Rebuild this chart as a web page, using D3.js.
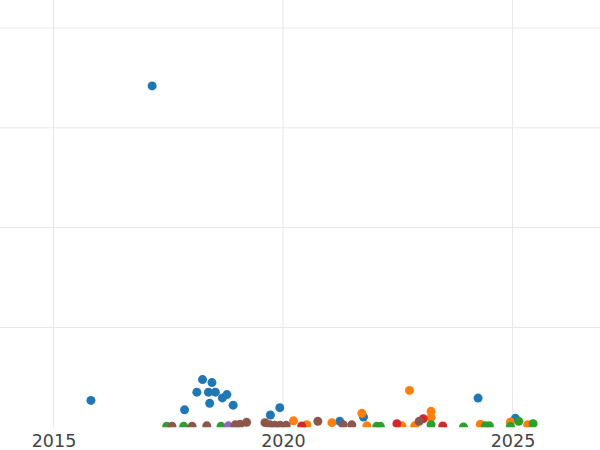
<!DOCTYPE html>
<html>
<head>
<meta charset="utf-8">
<script src="https://cdn.jsdelivr.net/npm/d3@7"></script>
<style>
  body { margin: 0; background: #fff; }
  svg { display: block; }
</style>
</head>
<body>
<div id="chart"></div>
<script>
const width = 600 // svg width
const height = 450 // svg height
const plotBottom = 427.33 // bottom edge of the plot area (points are clipped here)

// DATA
const xTickLabels = ["2015", "2020", "2025"]
const yTickValues = [10, 20, 30, 40]
const seriesNames = ["series1", "series2", "series3", "series4", "series5", "series6"]

const series1Dates = ["2015-10-26", "2017-02-24", "2017-11-09", "2018-02-15", "2018-04-01", "2018-05-18",
  "2018-05-28", "2018-06-15", "2018-07-12", "2018-09-06", "2018-10-12", "2018-12-01", "2019-09-23",
  "2019-12-07", "2021-03-28", "2021-10-03", "2024-04-02", "2025-01-24"]
const series1Values = [2.7, 34.2, 1.75, 3.52, 4.78, 3.52, 2.4, 4.48, 3.52, 2.95, 3.28, 2.22, 1.23,
  1.97, 0.6, 1.03, 2.93, 0.9]

const series2Dates = ["2020-03-25", "2020-07-09", "2021-01-25", "2021-09-20", "2021-10-30", "2022-08-05",
  "2022-10-04", "2022-11-15", "2023-03-25", "2023-03-25", "2024-04-20", "2024-12-15", "2025-05-02"]
const series2Values = [0.65, 0.27, 0.47, 1.4, 0.15, 0.15, 3.7, 0.15, 1.0, 1.6, 0.3, 0.53, 0.27]

const series3Dates = ["2017-06-20", "2017-11-02", "2018-08-26", "2022-01-17", "2022-02-14", "2023-03-25",
  "2023-12-08", "2024-05-30", "2024-07-01", "2024-12-15", "2025-02-20", "2025-06-14"]
const series3Values = [0.1, 0.1, 0.1, 0.1, 0.1, 0.27, 0.03, 0.15, 0.15, 0.1, 0.6, 0.37]

const series4Dates = ["2020-05-30", "2022-06-26", "2023-01-22", "2023-06-26"]
const series4Values = [0.13, 0.37, 0.87, 0.13]

const series5Dates = ["2018-10-24"]
const series5Values = [0.15]

const series6Dates = ["2017-08-01", "2018-01-08", "2018-05-05", "2018-12-18", "2019-01-25", "2019-03-18",
  "2019-08-11", "2019-09-20", "2019-10-30", "2019-12-10", "2020-01-27", "2020-10-05", "2021-04-24",
  "2021-07-02", "2022-12-20"]
const series6Values = [0.1, 0.1, 0.15, 0.25, 0.3, 0.5, 0.47, 0.25, 0.2, 0.2, 0.2, 0.6, 0.27, 0.25, 0.6]

const seriesDates = [series1Dates, series2Dates, series3Dates, series4Dates, series5Dates, series6Dates]
const seriesValues = [series1Values, series2Values, series3Values, series4Values, series5Values, series6Values]

const parseDate = d3.timeParse("%Y-%m-%d")

// one record per point, series kept in drawing order
const points = seriesNames.flatMap((name, i) =>
  seriesDates[i].map((d, j) => ({ series: name, date: parseDate(d), value: seriesValues[i][j] })))

// SCALES
const x = d3.scaleTime()
  .domain([new Date(2015, 0, 1), new Date(2025, 0, 1)])
  .range([53.5, 512.5])

const y = d3.scaleLinear()
  .domain([0, 40])
  .range([plotBottom, 28])

const color = d3.scaleOrdinal()
  .domain(seriesNames)
  .range(d3.schemeCategory10)

const xTicks = xTickLabels.map(t => new Date(+t, 0, 1))

// SVG
const svg = d3.select("#chart")
  .append("svg")
  .attr("width", width)
  .attr("height", height)

svg.append("defs")
  .append("clipPath")
  .attr("id", "plot-clip")
  .append("rect")
  .attr("x", 0)
  .attr("y", 0)
  .attr("width", width)
  .attr("height", plotBottom)

// gridlines
const grid = svg.append("g").attr("class", "grid")

grid.selectAll(".hline")
  .data(yTickValues)
  .join("line")
  .attr("class", "hline")
  .attr("x1", 0)
  .attr("x2", width)
  .attr("y1", d => y(d))
  .attr("y2", d => y(d))
  .attr("stroke", "#e8e8e8")
  .attr("stroke-width", 1)

grid.selectAll(".vline")
  .data(xTicks)
  .join("line")
  .attr("class", "vline")
  .attr("x1", d => x(d))
  .attr("x2", d => x(d))
  .attr("y1", 0)
  .attr("y2", plotBottom)
  .attr("stroke", "#e8e8e8")
  .attr("stroke-width", 1)

// points
svg.append("g")
  .attr("clip-path", "url(#plot-clip)")
  .selectAll("circle")
  .data(points)
  .join("circle")
  .attr("cx", d => x(d.date))
  .attr("cy", d => y(d.value))
  .attr("r", 4.5)
  .attr("fill", d => color(d.series))

// x axis labels
const xAxis = svg.append("g")
  .attr("transform", `translate(0,${plotBottom})`)
  .call(d3.axisBottom(x)
    .tickValues(xTicks)
    .tickFormat(d3.timeFormat("%Y"))
    .tickSize(0)
    .tickPadding(7))

xAxis.select(".domain").remove()
xAxis.selectAll("text")
  .attr("fill", "#444")
  .style("font-family", "DejaVu Sans, sans-serif")
  .style("font-size", "17.5px")
</script>
</body>
</html>
